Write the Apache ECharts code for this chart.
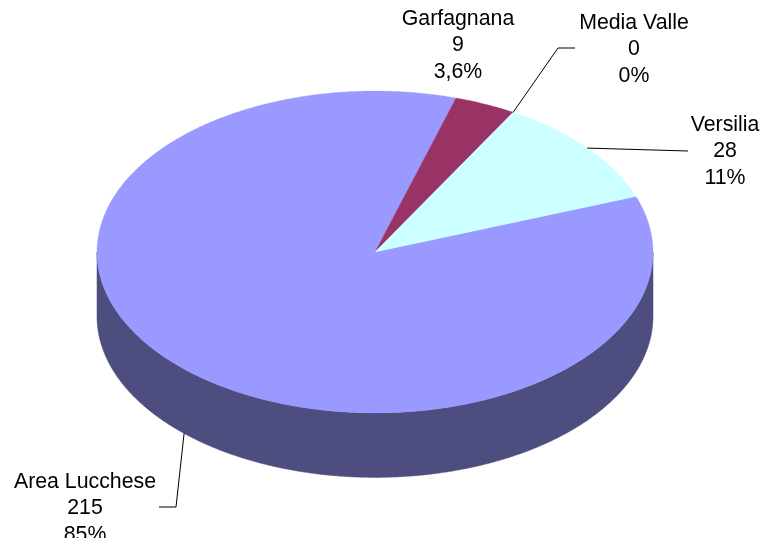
<!DOCTYPE html>
<html>
<head>
<meta charset="utf-8">
<style>html,body{margin:0;padding:0;background:#fff}#c{width:764px;height:538px}</style>
<script src="https://cdn.jsdelivr.net/npm/echarts@6/dist/echarts.min.js"></script>
</head>
<body>
<div id="c"></div>
<script>
const categories = ['Area Lucchese', 'Garfagnana', 'Media Valle', 'Versilia'];
const values = [215, 9, 0, 28];
const percentLabels = ['85%', '3,6%', '0%', '11%'];
const topColors = ['#9999FF', '#993366', '#FFFFFF', '#CCFFFF'];
const sideColors = ['#4D4D80', '#4D1A33', '#808080', '#668080'];

const START_DEG = 69.8;    // where the first slice begins, clockwise from 12 o'clock
const DEPTH = 0.4;         // pie thickness in axis units
// label centre (px), first-line y (px), optional leader geometry
const labelLayout = [
  {x: 85,  y: 482, anchorDepth: true, frac: 0.5, elbow: [[176, 507], [159, 507]]},
  {x: 458, y: 19},
  {x: 634, y: 23, frac: 1, elbow: [[558, 48], [575, 48]]},
  {x: 725, y: 125, frac: 0.5, elbow: [[688, 151]]}
];
const LINE_H = 26.5;

const total = values.reduce((a, b) => a + b, 0);
const angles = [];
let acc = START_DEG;
values.forEach(v => { const s = acc; acc += v / total * 360; angles.push([s, acc]); });
const pt = (deg, dy) => {
  const r = deg * Math.PI / 180;
  return [Math.sin(r), Math.cos(r) - (dy || 0)];
};
const arc = (a, b, dy) => {
  const out = [];
  const n = Math.max(1, Math.ceil((b - a) / 0.5));
  for (let i = 0; i <= n; i++) out.push(pt(a + (b - a) * i / n, dy));
  return out;
};
const rows = categories.map((c, i) => [i, values[i]]);

const chart = echarts.init(document.getElementById('c'), null, {renderer: 'canvas'});
chart.setOption({
  animation: false,
  backgroundColor: '#fff',
  grid: {left: 97, width: 556, top: 91, height: 322},
  xAxis: {type: 'value', min: -1, max: 1, show: false},
  yAxis: {type: 'value', min: -1, max: 1, show: false},
  series: [
    {
      type: 'custom', coordinateSystem: 'cartesian2d', data: rows, z: 1, silent: true,
      renderItem(p, api) {
        const i = api.value(0);
        const [s, e] = angles[i];
        const ranges = [[Math.max(s, 90), Math.min(e, 270)]];
        const group = [];
        ranges.forEach(([a, b]) => {
          if (b <= a) return;
          const pts = arc(a, b, 0).concat(arc(a, b, DEPTH).reverse()).map(q => api.coord(q));
          group.push({type: 'polygon', shape: {points: pts},
            style: {fill: sideColors[i], stroke: sideColors[i], lineWidth: 0.5}});
        });
        return {type: 'group', children: group};
      }
    },
    {
      type: 'custom', coordinateSystem: 'cartesian2d', data: rows, z: 2, silent: true,
      renderItem(p, api) {
        const i = api.value(0);
        const [s, e] = angles[i];
        if (api.value(1) === 0) return {type: 'group', children: []};
        const pts = [api.coord([0, 0])].concat(arc(s, e, 0).map(q => api.coord(q)));
        return {type: 'polygon', shape: {points: pts},
          style: {fill: topColors[i], stroke: topColors[i], lineWidth: 0.3}};
      }
    },
    {
      type: 'custom', coordinateSystem: 'cartesian2d', data: rows, z: 3, silent: true,
      renderItem(p, api) {
        const i = api.value(0);
        const l = labelLayout[i];
        const children = [];
        if (l.elbow) {
          const [s, e] = angles[i];
          const a = s + (e - s) * l.frac;
          const start = api.coord(pt(a, l.anchorDepth ? DEPTH : 0));
          children.push({type: 'polyline', shape: {points: [start].concat(l.elbow)},
            style: {fill: null, stroke: '#000', lineWidth: 1}});
        }
        [categories[i], String(api.value(1)), percentLabels[i]].forEach((t, k) => {
          children.push({type: 'text', style: {
            x: l.x, y: l.y + k * LINE_H, text: t, fill: '#000',
            font: '21.3px "Liberation Sans", Arial, sans-serif',
            textAlign: 'center', textVerticalAlign: 'middle'
          }});
        });
        return {type: 'group', children};
      }
    }
  ]
});
</script>
</body>
</html>
